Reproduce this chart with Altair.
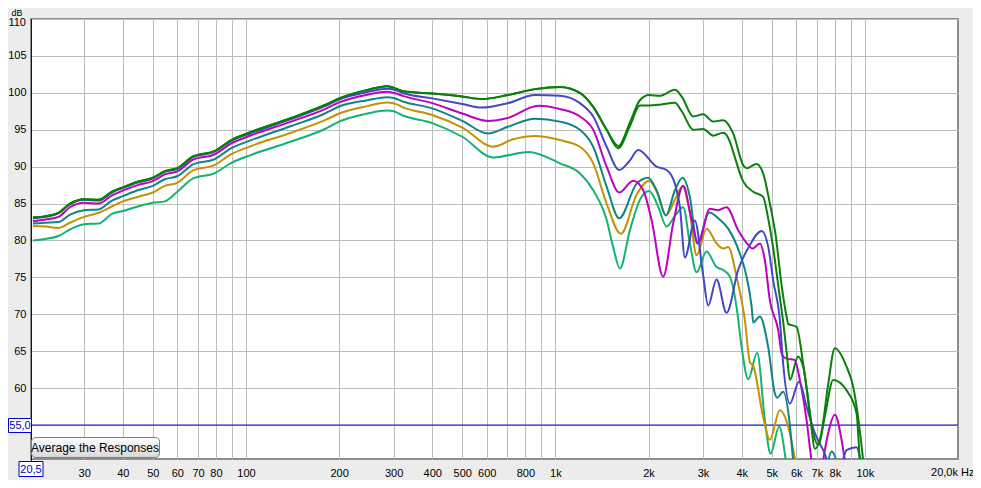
import altair as alt
import pandas as pd

# ---------------- data ----------------
LOW_F = [20.5, 22.5, 24.8, 27, 30, 33.4, 36.9, 40, 44.7, 50, 54.7, 60, 67.5, 79, 89.7,
         104, 140, 180, 200, 247, 286, 300, 323, 400]

GREEN_LOW = [83.1, 83.3, 83.75, 85.0, 85.6, 85.5, 86.6, 87.2, 87.95, 88.5, 89.4, 89.8, 91.4, 92.1, 93.6,
             94.7, 96.6, 98.35, 99.25, 100.4, 100.9, 100.7, 100.2, 99.9]
BLUE_LOW = [83.0, 83.2, 83.7, 84.9, 85.5, 85.4, 86.5, 87.1, 87.85, 88.4, 89.3, 89.7, 91.3, 92.0, 93.5,
            94.55, 96.45, 98.2, 99.1, 100.1, 100.55, 100.45, 99.95, 99.25]
MAGENTA_LOW = [82.6, 82.85, 83.2, 84.5, 85.1, 85.0, 86.1, 86.75, 87.5, 88.05, 88.95, 89.35, 90.95, 91.65, 93.15,
               94.25, 96.1, 97.8, 98.7, 99.75, 100.15, 100.0, 99.55, 98.6]
TEAL_LOW = [82.3, 82.4, 82.5, 83.5, 84.1, 84.2, 85.4, 86.0, 86.8, 87.4, 88.3, 88.7, 90.3, 91.0, 92.5,
            93.6, 95.5, 97.2, 98.15, 99.0, 99.4, 99.3, 98.8, 97.9]
GOLD_LOW = [81.95, 81.9, 81.7, 82.4, 83.2, 83.75, 84.6, 85.3, 85.9, 86.5, 87.4, 87.8, 89.5, 90.2, 91.7,
            92.8, 94.6, 96.3, 97.2, 98.2, 98.7, 98.6, 98.0, 97.0]
LGREEN_LOW = [80.0, 80.2, 80.6, 81.5, 82.2, 82.3, 83.6, 84.0, 84.6, 85.1, 85.3, 86.6, 88.4, 89.1, 90.5,
              91.6, 93.4, 95.1, 96.1, 97.2, 97.6, 97.5, 96.9, 95.9]

A_F = [500, 578, 702, 860, 1034, 1200, 1325, 1464, 1600, 1741, 1875, 2009, 2176, 2433, 2560, 2788, 3002,
       3234, 3484, 3754, 4044, 4148, 4467, 4692, 4932, 5150, 5380, 5585, 5651, 6016, 6319, 6642, 6894,
       7246, 7611, 8000, 8728, 9167, 9874, 10100]
A_DB = [99.5, 99.15, 99.7, 100.5, 100.8, 100.0, 98.1, 95.0, 92.8, 96.0, 99.0, 99.7, 99.6, 100.4, 99.5, 96.8, 97.1,
        96.1, 96.3, 94.5, 90.2, 89.8, 90.35, 89.1, 85.0, 80.7, 74.0, 69.7, 68.7, 68.3, 63.3, 56.6, 51.8,
        54.0, 60.5, 65.4, 62.9, 60.2, 50.2, 46.0]

B_F = [500, 578, 702, 860, 1034, 1200, 1325, 1464, 1595, 1741, 1875, 2009, 2176, 2433, 2560, 2788, 3002,
       3234, 3484, 3663, 3754, 4044, 4359, 4692, 4870, 5055, 5246, 5445, 5600, 5724, 6088, 6319, 6807,
       7065, 7450, 7899, 8728, 9402, 9635, 9850]
B_DB = [99.5, 99.15, 99.7, 100.5, 100.8, 100.0, 98.1, 95.0, 92.5, 95.5, 98.3, 98.3, 98.4, 98.65, 97.5, 95.0, 95.1,
        94.2, 94.6, 93.4, 92.0, 88.0, 86.6, 85.9, 83.0, 79.0, 74.0, 69.0, 64.5, 61.1, 64.3, 62.9, 53.9,
        52.3, 56.5, 61.1, 59.7, 56.6, 50.2, 46.0]

BLUE_F = [500, 578, 702, 860, 1034, 1200, 1325, 1464, 1608, 1730, 1852, 2123, 2287, 2433, 2525, 2621, 2823,
          3002, 3116, 3317, 3574, 3896, 4253, 4637, 4870, 5055, 5313, 5445, 5724, 6133, 6481, 6894, 7426,
          7800, 8300, 8728, 9402, 9650, 9874]
BLUE_DB = [98.5, 98.0, 98.6, 99.7, 99.6, 98.6, 96.8, 92.7, 89.55, 90.7, 92.25, 90.0, 89.55, 87.7, 84.6, 77.7, 82.7,
           75.3, 71.2, 74.7, 70.2, 76.0, 79.4, 81.3, 79.2, 74.6, 69.2, 63.3, 57.9, 60.9, 57.5, 53.9, 51.1,
           48.5, 49.0, 51.6, 52.0, 50.5, 48.0]

MAG_F = [500, 605, 702, 880, 1034, 1200, 1325, 1464, 1608, 1784, 1922, 2045, 2230, 2402, 2588, 2755, 2893,
         3156, 3357, 3574, 3896, 4200, 4339, 4578, 4752, 4932, 5246, 5400, 5585, 5941, 6166, 6481, 6726,
         6950, 7200, 7333, 7611, 8000, 8409, 8618, 8900]
MAG_DB = [97.2, 96.2, 96.6, 98.25, 97.8, 96.8, 95.0, 90.0, 86.5, 88.1, 86.8, 82.8, 75.1, 82.3, 87.4, 82.8, 79.6,
          84.3, 84.1, 84.5, 81.4, 79.4, 78.9, 79.6, 77.3, 71.9, 67.9, 64.5, 64.0, 63.8, 61.1, 55.7, 50.2,
          47.5, 48.0, 50.2, 53.9, 56.4, 53.0, 50.2, 47.0]

TEAL_F = [500, 605, 702, 860, 1034, 1200, 1325, 1464, 1608, 1830, 1994, 2123, 2275, 2433, 2576, 2720, 2872,
          3140, 3400, 3617, 3946, 4148, 4307, 4359, 4578, 4870, 5119, 5207, 5445, 5724, 5866, 6050, 6600,
          7200, 7550, 7806, 8150, 8400]
TEAL_DB = [96.2, 94.5, 95.4, 96.5, 96.1, 95.0, 92.7, 87.3, 83.0, 87.7, 88.5, 86.8, 83.4, 86.8, 88.5, 85.9, 79.6,
           83.8, 82.8, 81.6, 78.2, 75.1, 71.0, 68.9, 69.7, 65.6, 59.3, 58.7, 59.5, 55.0, 50.2, 46.0, 44.0,
           45.0, 49.5, 51.4, 49.5, 46.0]

GOLD_F = [500, 630, 730, 860, 1034, 1200, 1325, 1464, 1628, 1830, 2009, 2148, 2275, 2433, 2576, 2720, 2859,
          3079, 3317, 3484, 3617, 3850, 4096, 4253, 4359, 4692, 4932, 5313, 5651, 5941, 6200]
GOLD_DB = [95.3, 92.7, 93.7, 94.15, 93.6, 92.7, 90.45, 85.0, 80.9, 86.2, 88.1, 86.2, 83.4, 85.5, 87.3, 83.7, 78.0,
           81.6, 79.6, 78.9, 79.1, 75.1, 69.2, 63.5, 63.0, 56.1, 53.0, 57.0, 54.8, 50.5, 46.0]

LG_F = [500, 630, 820, 1034, 1200, 1325, 1464, 1537, 1616, 1741, 1875, 2009, 2148, 2287, 2450, 2588, 2720,
        2859, 3079, 3317, 3484, 3663, 3850, 3996, 4200, 4487, 4752, 4958, 5285, 5515, 5700]
LG_DB = [94.05, 91.25, 92.0, 90.45, 89.1, 86.8, 82.8, 79.1, 76.2, 81.4, 85.5, 86.7, 84.6, 81.9, 83.5, 84.5, 79.6,
         75.7, 78.5, 76.4, 76.0, 75.1, 71.0, 65.6, 61.2, 64.8, 55.7, 51.1, 54.8, 51.1, 46.0]

X_GRID = [30, 40, 50, 60, 70, 80, 90, 100, 200, 300, 400, 500, 600, 700, 800, 900,
          1000, 2000, 3000, 4000, 5000, 6000, 7000, 8000, 9000, 10000]
Y_GRID = [55, 60, 65, 70, 75, 80, 85, 90, 95, 100, 105, 110]

# drawing order: first is bottom
SERIES = [
    ("lgreen", "#14b46e", LOW_F + LG_F, LGREEN_LOW + LG_DB),
    ("gold", "#c39205", LOW_F + GOLD_F, GOLD_LOW + GOLD_DB),
    ("teal", "#0e8585", LOW_F + TEAL_F, TEAL_LOW + TEAL_DB),
    ("magenta", "#c000c0", LOW_F + MAG_F, MAGENTA_LOW + MAG_DB),
    ("blue", "#4646c8", LOW_F + BLUE_F, BLUE_LOW + BLUE_DB),
    ("greenB", "#0a7f0a", LOW_F + B_F, GREEN_LOW + B_DB),
    ("greenA", "#0a7f0a", LOW_F + A_F, GREEN_LOW + A_DB),
]

FONT = "Liberation Sans"
CURSOR = "#0000cc"

xscale = alt.Scale(type="log", domain=[20.2, 20000], nice=False)
yscale = alt.Scale(domain=[50.4, 110], nice=False, zero=False)

xaxis = alt.Axis(
    values=X_GRID,
    labelExpr="(datum.value == 90 || datum.value == 700 || datum.value == 900 || datum.value == 9000) ? '' : "
              "(datum.value >= 1000 ? (datum.value / 1000) + 'k' : '' + datum.value)",
    grid=True, gridColor="#bdbdbd", gridWidth=1, gridOpacity=1,
    ticks=False, tickSize=0, domain=False, labelPadding=8,
    labelFont=FONT, labelFontSize=11, labelColor="black",
    labelOverlap=False, labelFlush=False, labelBound=False, title=None,
)
yaxis = alt.Axis(
    values=Y_GRID,
    labelExpr="(datum.value == 55 || datum.value == 110) ? '' : datum.label",
    grid=True, gridColor="#bdbdbd", gridWidth=1, gridOpacity=1,
    ticks=False, tickSize=0, domain=False, labelPadding=5,
    labelFont=FONT, labelFontSize=11, labelColor="black",
    labelOverlap=False, labelFlush=False, labelBound=False, title=None,
)

X = alt.X("f:Q", scale=xscale, axis=xaxis)
Y = alt.Y("db:Q", scale=yscale, axis=yaxis)

layers = []
one = pd.DataFrame({"f": [20.5], "db": [55.0]})

# cursor lines
layers.append(alt.Chart(one).mark_rule(color=CURSOR, strokeWidth=1).encode(
    x=alt.value(0.5), y=alt.value(0), y2=alt.value(443)))
layers.append(alt.Chart(one).mark_rule(color=CURSOR, strokeWidth=1).encode(
    y=Y, x=alt.value(-4), x2=alt.value(927)))

# response curves
for name, col, fs, dbs in SERIES:
    df = pd.DataFrame({"f": fs, "db": dbs})
    layers.append(
        alt.Chart(df).mark_line(color=col, strokeWidth=2, interpolate="monotone", clip=True)
        .encode(x=X, y=Y)
    )

# button
layers.append(alt.Chart(one).mark_rect(
    fill=alt.Gradient(gradient="linear",
                      stops=[alt.GradientStop(color="#fdfdfd", offset=0),
                             alt.GradientStop(color="#d8d8d8", offset=1)],
                      x1=0, x2=0, y1=0, y2=1),
    stroke="#7c7c7c", strokeWidth=1, cornerRadius=4).encode(
    x=alt.value(0.5), x2=alt.value(128.5), y=alt.value(418.5), y2=alt.value(438.5)))
layers.append(alt.Chart(one).mark_text(text="Average the Responses", font=FONT, fontSize=12,
                                       color="black", baseline="middle", align="center").encode(
    x=alt.value(64), y=alt.value(429)))

# cursor value boxes
layers.append(alt.Chart(one).mark_rect(fill="white", stroke=CURSOR, strokeWidth=1).encode(
    x=alt.value(-12), x2=alt.value(12), y=alt.value(442.5), y2=alt.value(457.5)))
layers.append(alt.Chart(one).mark_text(text="20,5", font=FONT, fontSize=11, color=CURSOR,
                                       baseline="middle", align="center").encode(
    x=alt.value(0), y=alt.value(450.5)))
layers.append(alt.Chart(one).mark_rect(fill="white", stroke=CURSOR, strokeWidth=1).encode(
    x=alt.value(-22.5), x2=alt.value(0.5), y=alt.value(399.5), y2=alt.value(413.5)))
layers.append(alt.Chart(one).mark_text(text="55,0", font=FONT, fontSize=11, color=CURSOR,
                                       baseline="middle", align="center").encode(
    x=alt.value(-11), y=alt.value(407)))

# top y label and unit labels
top = pd.DataFrame({"db": [110.0], "t": ["110"]})
layers.append(alt.Chart(top).mark_text(font=FONT, fontSize=11, color="black",
                                       baseline="middle", align="right", dx=-5, dy=4).encode(
    y=Y, x=alt.value(0), text="t:N"))
layers.append(alt.Chart(one).mark_text(text="dB", font=FONT, fontSize=9, color="black",
                                       baseline="alphabetic", align="center").encode(
    x=alt.value(-14), y=alt.value(-3.5)))
end = pd.DataFrame({"f": [20000]})
layers.append(alt.Chart(end).mark_text(text="20,0k", font=FONT, fontSize=11, color="black",
                                       baseline="middle", align="right", dx=0).encode(
    x=X, y=alt.value(454)))
layers.append(alt.Chart(end).mark_text(text="Hz", font=FONT, fontSize=11, color="black",
                                       baseline="middle", align="left", dx=3).encode(
    x=X, y=alt.value(454)))

chart = alt.layer(*layers).properties(
    width=927, height=440,
    padding={"left": 23, "top": 11, "right": 15, "bottom": 21},
    autosize=alt.AutoSizeParams(type="none"),
    background="#ececec",
).configure_view(
    fill="white", stroke="#8e8e8e", strokeWidth=2
)

chart.save("out.html", embed_options={"renderer": "svg", "actions": False})
